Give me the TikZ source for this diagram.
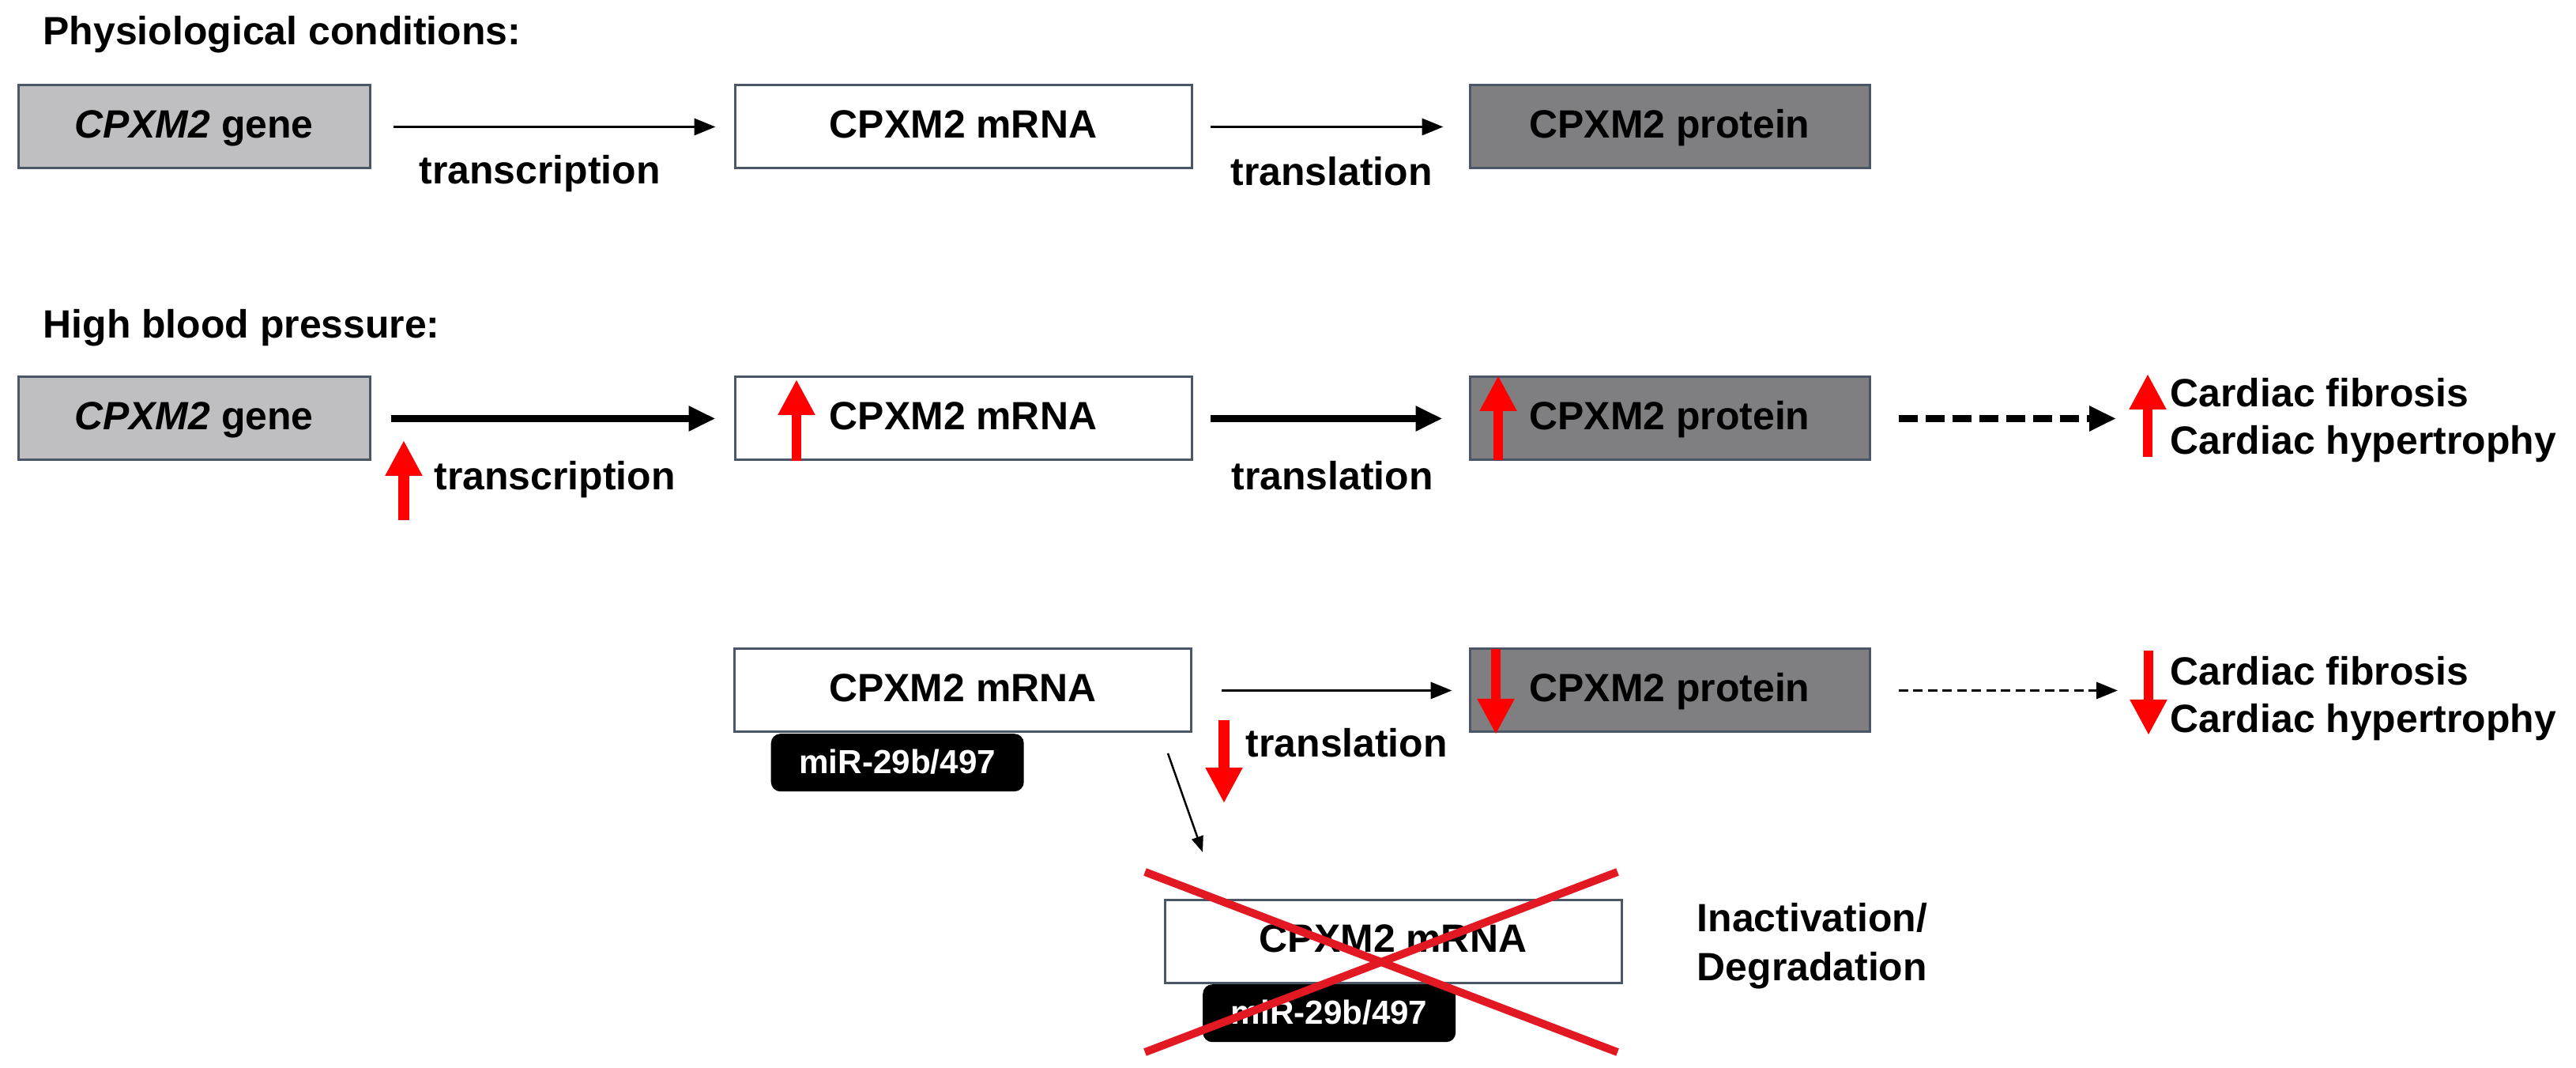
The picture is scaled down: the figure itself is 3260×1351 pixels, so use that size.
\documentclass[tikz,border=0pt]{standalone}
\usepackage{fontspec}
\setmainfont{Liberation Sans}
\usetikzlibrary{arrows.meta,positioning}
\definecolor{boxline}{RGB}{75,86,102}
\definecolor{genegray}{RGB}{191,191,193}
\definecolor{protgray}{RGB}{127,127,129}
\definecolor{upred}{RGB}{255,0,0}
\definecolor{crossred}{RGB}{226,24,34}

\begin{document}
\begin{tikzpicture}[x=0.1mm,y=-0.1mm,
  every node/.style={font=\fontsize{14.2}{17}\selectfont\bfseries},
  box/.style={draw=boxline,line width=0.3mm,minimum height=10.5mm,inner sep=0pt,text height=0.95em,text depth=0.17em},
  genebox/.style={box,fill=genegray,minimum width=44.5mm},
  mrnabox/.style={box,fill=white,minimum width=57.8mm},
  protbox/.style={box,fill=protgray,minimum width=50.6mm},
  mirtag/.style={fill=black,text=white,rounded corners=1.2mm,minimum width=32mm,minimum height=7.3mm,inner sep=0pt,
    font=\fontsize{12}{14}\selectfont\bfseries,text height=0.95em,text depth=0.17em},
  lbl/.style={inner sep=0pt},
  thinarr/.style={line width=0.35mm,-{Triangle[length=2.7mm,width=2.1mm]}},
  thickarr/.style={line width=0.9mm,-{Triangle[length=3.4mm,width=3mm]}},
  diagarr/.style={line width=0.25mm,-{Triangle[length=2mm,width=1.5mm]}},
  redarr/.style={upred,line width=1.2mm,-{Triangle[length=4.5mm,width=4.4mm]}}]
\useasboundingbox (0,0) rectangle (3260,1351);

% physiological conditions
\node[lbl,anchor=base west] (T1) at (54,57) {Physiological conditions:};
\node[genebox] (G1) at (245.5,160.5) {{\itshape CPXM2} gene};
\node[mrnabox] (M1) at (1219,160.5) {CPXM2 mRNA};
\node[protbox] (P1) at (2113,160.5) {CPXM2 protein};
\node[lbl,anchor=base] (L1a) at (683,233) {transcription};
\node[lbl,anchor=base] (L1b) at (1685,235) {translation};
\draw[thinarr,shorten <=2.8mm,shorten >=2.3mm] (G1) -- (M1);
\draw[thinarr,shorten <=2.2mm,shorten >=3.2mm] (M1) -- (P1);

% high blood pressure
\node[lbl,anchor=base west] (T2) at (54,428) {High blood pressure:};
\node[genebox] (G2) at (245.5,529.5) {{\itshape CPXM2} gene};
\node[mrnabox] (M2) at (1219,529.5) {CPXM2 mRNA};
\node[protbox] (P2) at (2113,529.5) {CPXM2 protein};
\node[lbl,anchor=base west] (L2a) at (549,620) {transcription};
\node[lbl,anchor=base] (L2b) at (1686,620) {translation};
\node[lbl,anchor=base west] (C2a) at (2746,515) {Cardiac fibrosis};
\node[lbl,anchor=base west] (C2b) at (2746,575) {Cardiac hypertrophy};
\coordinate (E2) at (2678,529.5);
\draw[thickarr,shorten <=2.5mm,shorten >=2.3mm] (G2) -- (M2);
\draw[thickarr,shorten <=2.2mm,shorten >=3.3mm] (M2) -- (P2);
\draw[thickarr,dash pattern=on 2.4mm off 1mm,shorten <=3.5mm] (P2) -- (E2);
\draw[redarr,line width=1.4mm] (511,658) -- (511,557);
\draw[redarr] (1008,583) -- (1008,480);
\draw[redarr] (1896,582) -- (1896,475);
\draw[redarr] (2718,578) -- (2718,473);

% miRNA binding
\node[mrnabox] (M3) at (1218.5,873.5) {CPXM2 mRNA};
\node[mirtag,anchor=north west] (R3) at ([xshift=4.7mm]M3.south west) {miR-29b/497};
\node[protbox] (P3) at (2113,873.5) {CPXM2 protein};
\node[lbl,anchor=base west] (L3) at (1576,958) {translation};
\node[lbl,anchor=base west] (C3a) at (2746,867) {Cardiac fibrosis};
\node[lbl,anchor=base west] (C3b) at (2746,927) {Cardiac hypertrophy};
\coordinate (E3) at (2680,873.5);
\draw[thinarr,shorten <=3.7mm,shorten >=2.1mm] (M3) -- (P3);
\draw[thinarr,dash pattern=on 1.2mm off 0.65mm,shorten <=3.5mm] (P3) -- (E3);
\draw[redarr,line width=1.4mm] (1549,911) -- (1549,1016);
\draw[redarr] (1893,821) -- (1893,929);
\draw[redarr] (2719,823) -- (2719,930);

% degradation
\coordinate (D1) at (1478,953);
\coordinate (D2) at (1522,1078);
\draw[diagarr] (D1) -- (D2);
\node[mrnabox] (M4) at (1763,1190.5) {CPXM2 mRNA};
\node[mirtag,anchor=north west] (R4) at ([xshift=4.9mm]M4.south west) {miR-29b/497};
\node[lbl,anchor=base west] (I4a) at (2147,1178) {Inactivation/};
\node[lbl,anchor=base west] (I4b) at (2147,1240) {Degradation};
\draw[crossred,line width=1mm] (1449,1103) -- (2047,1331);
\draw[crossred,line width=1mm] (2047,1103) -- (1449,1331);
\end{tikzpicture}
\end{document}
